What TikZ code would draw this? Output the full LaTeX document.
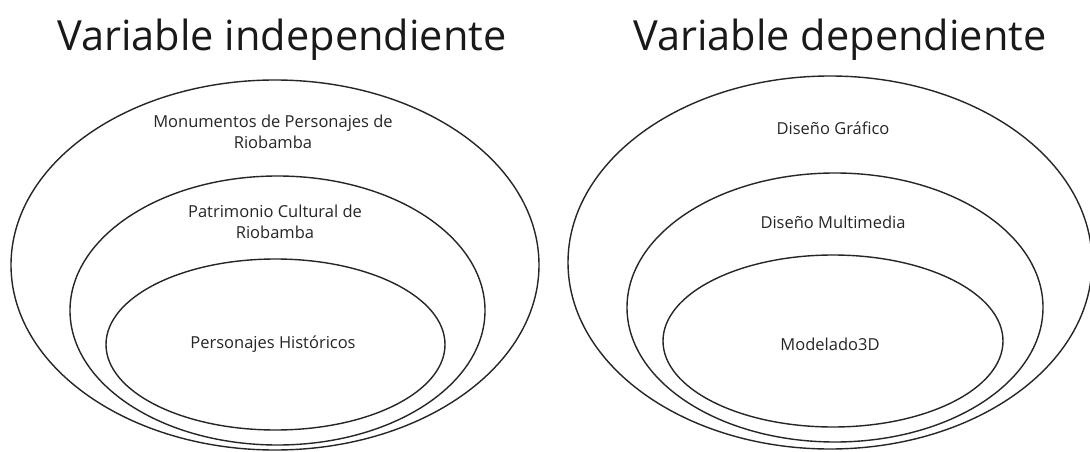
\documentclass[tikz,border=0pt]{standalone}
\usepackage{fontspec}
\setmainfont{Open Sans}
\usetikzlibrary{shapes.geometric}
\tikzset{
  ring/.style={draw=black!85, line width=1.4pt, ellipse, inner sep=0pt, outer sep=0pt},
  title/.style={font=\fontsize{41.5}{44}\selectfont, inner sep=0pt, text=black!90},
  label/.style={font=\fontsize{16.5}{20.5}\selectfont, align=center, inner sep=0pt, text=black!85},
}
\begin{document}
\begin{tikzpicture}[x=1pt, y=-1pt]
\useasboundingbox[fill=white] (0,0) rectangle (1090,452);
% titles
\node[title, anchor=base] (t1) at (282,51) {Variable independiente};
\node[title, anchor=base] (t2) at (840,51) {Variable dependiente};
% left ellipses
\node[ring, minimum width=528pt, minimum height=370pt] (lo) at (275,265) {};
\node[ring, minimum width=415pt, minimum height=269pt] (lm) at (277.5,310.5) {};
\node[ring, minimum width=339pt, minimum height=171pt] (li) at (275.5,344.5) {};
% right ellipses
\node[ring, minimum width=524pt, minimum height=373pt] (ro) at (830,262.5) {};
\node[ring, minimum width=416pt, minimum height=269pt] (rm) at (835,307.5) {};
\node[ring, minimum width=340pt, minimum height=172pt] (ri) at (833,341) {};
% labels
\node[label] (l1) at (273,132) {Monumentos de Personajes de\\Riobamba};
\node[label] (l2) at (275,222) {Patrimonio Cultural de\\Riobamba};
\node[label] (l3) at (273,344) {Personajes Históricos};
\node[label] (r1) at (833,128) {Diseño Gráfico};
\node[label] (r2) at (833,222) {Diseño Multimedia};
\node[label] (r3) at (830,344) {Modelado3D};
\end{tikzpicture}
\end{document}
